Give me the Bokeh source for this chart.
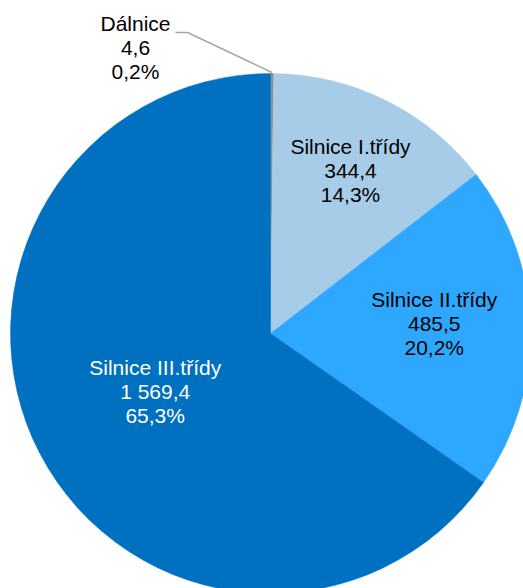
import math
from bokeh.plotting import figure
from bokeh.models import Range1d
from bokeh.core.properties import value
from bokeh.embed import file_html
from bokeh.resources import INLINE

# ---- data ----
categories = ["Dálnice", "Silnice I.třídy", "Silnice II.třídy", "Silnice III.třídy"]
lengths_km = [4.6, 344.4, 485.5, 1569.4]

# ---- styles / layout ----
colors = ["#8c8c8c", "#a7cce8", "#2ea8ff", "#0070c0"]
text_colors = ["#000000", "#000000", "#000000", "#ffffff"]
label_radius = [None, 0.69, 0.63, 0.50]
label_dy = [0, 0, 4, 0]

W, H = 523, 588
CX, CY, R = 270, 255, 260
FONT = "Liberation Sans"
FS = "21px"
LINE = 24
TEXT_SHIFT = 9


def fmt_num(v):
    s = f"{v:,.1f}"
    return s.replace(",", " ").replace(".", ",")


def fmt_pct(p):
    return f"{p:.1f}".replace(".", ",") + "%"


total = sum(lengths_km)
fracs = [v / total for v in lengths_km]

starts, ends = [], []
acc = 0.0
for f in fracs:
    starts.append(math.pi / 2 - acc * 2 * math.pi)
    acc += f
    ends.append(math.pi / 2 - acc * 2 * math.pi)

p = figure(width=W, height=H, output_backend="svg", toolbar_location=None,
           x_range=Range1d(0, W), y_range=Range1d(0, H),
           min_border=0, outline_line_color=None)
p.axis.visible = False
p.grid.visible = False

p.wedge(x=[CX] * 4, y=[CY] * 4, radius=R, start_angle=starts, end_angle=ends,
        direction="clock", fill_color=colors, line_color=colors, line_width=0.5)

for i, cat in enumerate(categories):
    lines = [cat, fmt_num(lengths_km[i]), fmt_pct(fracs[i] * 100)]
    mid = (starts[i] + ends[i]) / 2
    if label_radius[i] is None:
        # outside label with leader line
        ex = CX + R * math.cos(mid)
        ey = CY + R * math.sin(mid) + 1
        lx, ly = 135, H - 32
        p.line(x=[lx + 40, lx + 52, ex], y=[ly, ly, ey],
               line_color="#a6a6a6", line_width=1.5)
        top = ly
    else:
        lx = CX + label_radius[i] * R * math.cos(mid)
        ly = CY + label_radius[i] * R * math.sin(mid) + label_dy[i]
        top = ly - 7 + LINE
    top += TEXT_SHIFT
    for k, t in enumerate(lines):
        p.text(x=[lx], y=[top - k * LINE], text=[t], text_align="center",
               text_baseline="alphabetic", text_font=value(FONT),
               text_font_size=FS, text_color=text_colors[i])

open("out.html", "w").write(file_html(p, INLINE))
